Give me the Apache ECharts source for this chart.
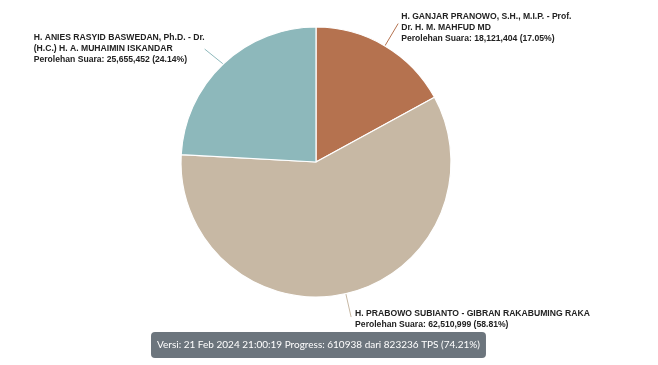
<!DOCTYPE html>
<html><head><meta charset="utf-8">
<script src="https://cdn.jsdelivr.net/npm/echarts@6/dist/echarts.min.js"></script>
<style>html,body{margin:0;padding:0;background:#fff}#c{width:658px;height:365px}</style>
</head><body><div id="c"></div>
<script>
const names = [
  'H. GANJAR PRANOWO, S.H., M.I.P. - Prof.\nDr. H. M. MAHFUD MD',
  'H. PRABOWO SUBIANTO - GIBRAN RAKABUMING RAKA',
  'H. ANIES RASYID BASWEDAN, Ph.D. - Dr.\n(H.C.) H. A. MUHAIMIN ISKANDAR'
];
const votes = [18121404, 62510999, 25655452];
const percents = ['17.05%', '58.81%', '24.14%'];
const colors = ['#b5724f', '#c7b8a4', '#8db8bb'];
const footerText = 'Versi: 21 Feb 2024 21:00:19 Progress: 610938 dari 823236 TPS (74.21%)';

const lineLengths = [26, 24, 24];
const labelGaps = [3, 4, 2];
const labelShiftY = [4, 2, 2.5];

const chart = echarts.init(document.getElementById('c'));
const fmt = n => n.toLocaleString('en-US');
chart.setOption({
  animation: false,
  title: {
    text: footerText,
    left: 151,
    top: 332,
    backgroundColor: '#6c757d',
    borderRadius: 4,
    padding: [6, 6, 6, 6],
    textStyle: {color: '#fff', fontSize: 10, fontWeight: 'normal', fontFamily: 'Lato', lineHeight: 14}
  },
  series: [{
    type: 'pie',
    center: [316, 162],
    radius: 135,
    startAngle: 90,
    clockwise: true,
    itemStyle: {borderColor: '#fff', borderWidth: 1.2},
    data: names.map((n, i) => ({
      name: n, value: votes[i],
      itemStyle: {color: colors[i]},
      labelLine: {length: lineLengths[i]},
      label: {distanceToLabelLine: labelGaps[i]}
    })),
    label: {
      show: true,
      position: 'outside',
      formatter: p => '{b|' + p.name.split('\n').join('}\n{b|') + '}\n{n|Perolehan Suara: ' + fmt(votes[p.dataIndex]) + ' (' + percents[p.dataIndex] + ')}',
      rich: {
        b: {fontFamily: 'Liberation Sans', fontWeight: 'bold', fontSize: 8.6, color: '#222', lineHeight: 11},
        n: {fontFamily: 'Liberation Sans', fontWeight: 'bold', fontSize: 8.6, color: '#222', lineHeight: 11}
      }
    },
    labelLine: {show: true, length2: 0, lineStyle: {width: 1}},
    labelLayout: function (p) {
      const r = {dy: labelShiftY[p.dataIndex]};
      if (p.dataIndex === 2) {
        r.x = p.labelRect.x;
        r.align = 'left';
      }
      return r;
    }
  }]
});
</script></body></html>
